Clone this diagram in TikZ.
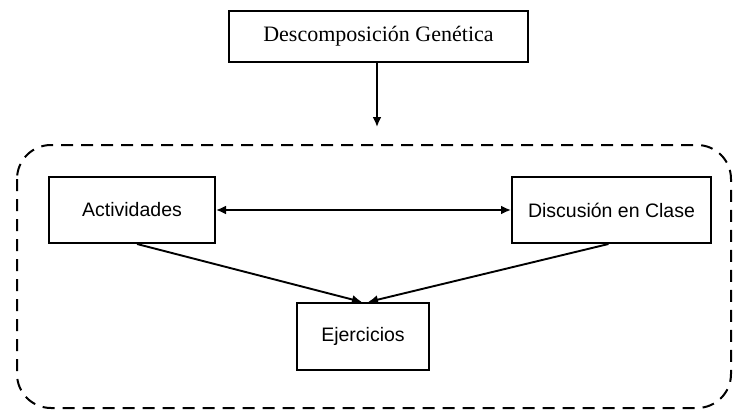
\documentclass[tikz,border=0pt]{standalone}
\usepackage{fontspec}
\setmainfont{Liberation Serif}
\setsansfont{Liberation Sans}
\usetikzlibrary{arrows.meta}

\tikzset{
  caja/.style={draw, line width=2pt, inner sep=0pt, align=center},
  flecha/.style={line width=1.9pt, -{Latex[length=10pt,width=9pt]}},
}

\begin{document}
\begin{tikzpicture}[x=1pt,y=-1pt]
\useasboundingbox (0,0) rectangle (733,412);

% bloque superior
\node[caja, minimum width=299pt, minimum height=51pt,
  font=\fontsize{22}{26}\selectfont] (desc) at (378.5,36.5) {Descomposici\'on Gen\'etica};
\coordinate (entrada) at (377,127);
\draw[flecha] (desc.south -| entrada) -- (entrada);

% marco discontinuo
\draw[line width=2pt, dash pattern=on 12pt off 8pt, rounded corners=34pt]
  (17,145) rectangle (731,408);

% cajas interiores
\node[caja, minimum width=166pt, minimum height=66pt,
  font=\sffamily\fontsize{19.5}{23}\selectfont] (act) at (132,210) {Actividades};
\node[caja, minimum width=199pt, minimum height=66pt,
  font=\sffamily\fontsize{19.5}{23}\selectfont] (disc) at (611.5,210) {Discusi\'on en Clase};
\node[caja, minimum width=132pt, minimum height=67pt,
  font=\sffamily\fontsize{19.5}{23}\selectfont] (ejer) at (363,336.5) {Ejercicios};

\draw[flecha, {Latex[length=10pt,width=9pt]}-{Latex[length=10pt,width=9pt]}] (act) -- (disc);
\draw[flecha] ([xshift=5pt]act.south) -- ([xshift=-1pt]ejer.north);
\draw[flecha] ([xshift=-3pt]disc.south) -- ([xshift=5pt]ejer.north);
\end{tikzpicture}
\end{document}
